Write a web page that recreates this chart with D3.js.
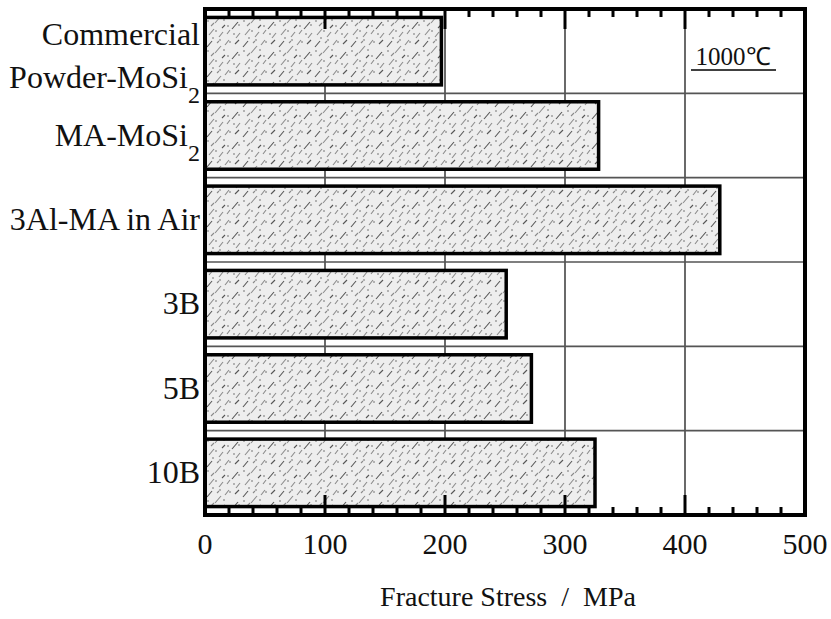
<!DOCTYPE html>
<html>
<head>
<meta charset="utf-8">
<script src="https://cdn.jsdelivr.net/npm/d3@7"></script>
<style>
  body { margin: 0; background: #fff; }
  text { font-family: "Liberation Serif", "Times New Roman", serif; fill: #111; }
</style>
</head>
<body>
<div id="chart"></div>
<script>
// category labels, "_" marks a subscript; "|" splits lines
var categories = ["Commercial|Powder-MoSi_2", "MA-MoSi_2", "3Al-MA in Air", "3B", "5B", "10B"];
var stress = [197, 328, 429, 251, 272, 325];
var xTicks = [0, 100, 200, 300, 400, 500];
var tempLabel = "1000\u2103";
var xTitle = "Fracture Stress  /  MPa";

var margin = { top: 9, right: 26, bottom: 104, left: 205 };
var width = 831 - margin.left - margin.right,
    height = 619 - margin.top - margin.bottom;

var svg = d3.select("#chart").append("svg")
    .attr("width", 831)
    .attr("height", 619);

// stipple / hatch fill for the bars
var defs = svg.append("defs");
var pat = defs.append("pattern")
    .attr("id", "stipple")
    .attr("patternUnits", "userSpaceOnUse")
    .attr("width", 36).attr("height", 30);
pat.append("rect").attr("width", 36).attr("height", 30).attr("fill", "#eeeeee");
var strokes = [
    [2, 8, 7, 2], [10, 14, 16, 7], [20, 6, 24, 1], [27, 20, 33, 13], [4, 26, 9, 20],
    [14, 28, 18, 23], [30, 5, 34, 1], [22, 25, 25, 21], [6, 17, 9, 14], [17, 19, 20, 16],
    [31, 29, 35, 24], [12, 4, 14, 2]
];
pat.selectAll("line").data(strokes).enter().append("line")
    .attr("x1", function (d) { return d[0]; }).attr("y1", function (d) { return d[1]; })
    .attr("x2", function (d) { return d[2]; }).attr("y2", function (d) { return d[3]; })
    .attr("stroke", function (d, i) { return i % 3 == 0 ? "#555" : "#8a8a8a"; })
    .attr("stroke-width", 1.1);
var dots = [[3, 12], [11, 22], [19, 11], [25, 3], [29, 25], [34, 16], [8, 29], [23, 17], [15, 1]];
pat.selectAll("circle").data(dots).enter().append("circle")
    .attr("cx", function (d) { return d[0]; }).attr("cy", function (d) { return d[1]; })
    .attr("r", 0.8).attr("fill", "#666");

var g = svg.append("g")
    .attr("transform", "translate(" + margin.left + "," + margin.top + ")");

var x = d3.scaleLinear().domain([0, 500]).range([0, width]);
var y = d3.scaleBand().domain(categories).range([0, height])
    .paddingInner(0.2).paddingOuter(0.1);

// vertical grid
g.selectAll(".vgrid").data(xTicks.slice(1, -1)).enter().append("line")
    .attr("x1", x).attr("x2", x)
    .attr("y1", 0).attr("y2", height)
    .attr("stroke", "#444").attr("stroke-width", 1.6);

// horizontal grid between rows
var bounds = categories.slice(1).map(function (c) { return y(c) - y.step() * y.paddingInner() / 2; });
g.selectAll(".hgrid").data(bounds).enter().append("line")
    .attr("x1", 0).attr("x2", width)
    .attr("y1", function (d) { return d; }).attr("y2", function (d) { return d; })
    .attr("stroke", "#555").attr("stroke-width", 1.6);

// bars
g.selectAll(".bar").data(categories).enter().append("rect")
    .attr("x", x(0))
    .attr("y", function (d) { return y(d); })
    .attr("width", function (d, i) { return x(stress[i]); })
    .attr("height", y.bandwidth())
    .attr("fill", "url(#stipple)")
    .attr("stroke", "#000").attr("stroke-width", 3.5);

// inward ticks, top and bottom
var minor = d3.range(0, 501, 20);
function tickLen(v) { return v % 100 == 0 ? 20 : 8; }
g.selectAll(".tb").data(minor).enter().append("line")
    .attr("x1", x).attr("x2", x)
    .attr("y1", height).attr("y2", function (d) { return height - tickLen(d); })
    .attr("stroke", "#000").attr("stroke-width", 3);
g.selectAll(".tt").data(minor).enter().append("line")
    .attr("x1", x).attr("x2", x)
    .attr("y1", 0).attr("y2", function (d) { return tickLen(d); })
    .attr("stroke", "#000").attr("stroke-width", 3);

// frame
g.append("rect")
    .attr("width", width).attr("height", height)
    .attr("fill", "none").attr("stroke", "#000").attr("stroke-width", 4);

// x tick labels
g.selectAll(".xl").data(xTicks).enter().append("text")
    .attr("x", x).attr("y", height + 39)
    .attr("text-anchor", "middle")
    .style("font-size", "30px")
    .text(function (d) { return d; });

g.append("text")
    .attr("x", width / 2 + 3).attr("y", height + 91)
    .attr("text-anchor", "middle")
    .style("font-size", "28px")
    .style("white-space", "pre")
    .attr("xml:space", "preserve")
    .text(xTitle);

// category labels with subscripts
categories.forEach(function (c) {
    var lines = c.split("|");
    var cy = y(c) + y.bandwidth() / 2;
    var first = cy + 10 - (lines.length - 1) * 16;
    lines.forEach(function (ln, k) {
        var parts = ln.split("_");
        var t = g.append("text")
            .attr("x", -5).attr("y", first + k * 43)
            .attr("text-anchor", "end")
            .style("font-size", "32px");
        t.append("tspan").text(parts[0]);
        if (parts[1]) {
            t.append("tspan").attr("dy", 15).style("font-size", "24px").text(parts[1]);
        }
    });
});

// temperature note
g.append("text")
    .attr("x", 528).attr("y", 56)
    .attr("text-anchor", "middle")
    .style("font-size", "25px")
    .text(tempLabel);
g.append("line")
    .attr("x1", 486).attr("x2", 571)
    .attr("y1", 61).attr("y2", 61)
    .attr("stroke", "#000").attr("stroke-width", 1.5);
</script>
</body>
</html>
